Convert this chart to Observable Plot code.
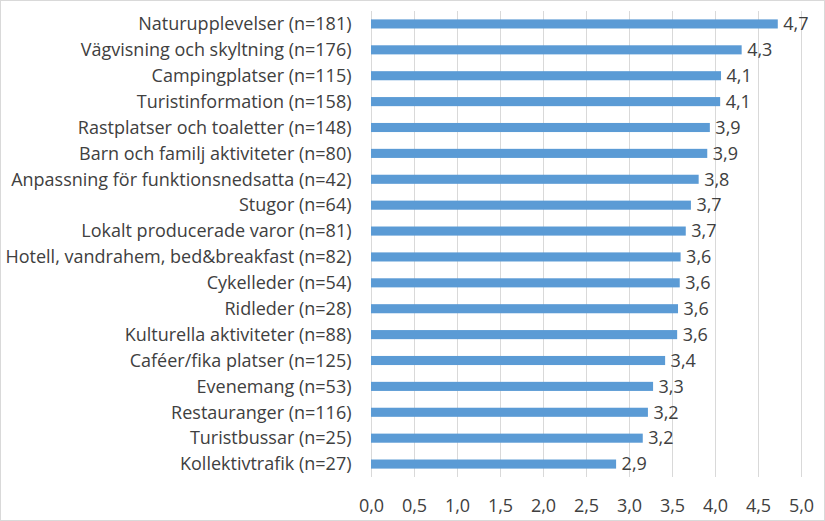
<!DOCTYPE html>
<html>
<head>
<meta charset="utf-8">
<script src="https://cdn.jsdelivr.net/npm/d3@7"></script>
<script src="https://cdn.jsdelivr.net/npm/@observablehq/plot@0.6"></script>
<style>
  html, body { margin: 0; padding: 0; background: #fff; }
  #chart svg { display: block; outline: 1px solid #d9d9d9; outline-offset: -1px; }
</style>
</head>
<body>
<div id="chart"></div>
<script>
const categories = [
  "Naturupplevelser", "Vägvisning och skyltning", "Campingplatser", "Turistinformation",
  "Rastplatser och toaletter", "Barn och familj aktiviteter", "Anpassning för funktionsnedsatta",
  "Stugor", "Lokalt producerade varor", "Hotell, vandrahem, bed&breakfast", "Cykelleder",
  "Ridleder", "Kulturella aktiviteter", "Caféer/fika platser", "Evenemang", "Restauranger",
  "Turistbussar", "Kollektivtrafik"
];
const counts = [181, 176, 115, 158, 148, 80, 42, 64, 81, 82, 54, 28, 88, 125, 53, 116, 25, 27];
const values = [4.73, 4.31, 4.07, 4.06, 3.94, 3.91, 3.81, 3.72, 3.66, 3.60, 3.59, 3.57, 3.56, 3.42, 3.28, 3.22, 3.16, 2.85];
const xTicks = [0, 0.5, 1, 1.5, 2, 2.5, 3, 3.5, 4, 4.5, 5];

const data = categories.map((c, i) => ({ label: `${c} (n=${counts[i]})`, value: values[i] }));
const comma = v => v.toFixed(1).replace(".", ",");

const chart = Plot.plot({
  width: 825,
  height: 521,
  marginLeft: 371,
  marginRight: 24,
  marginTop: 11,
  marginBottom: 44,
  style: { fontFamily: "'Open Sans', sans-serif", fontSize: "18px", color: "#404040", background: "#fff" },
  x: { domain: [0, 5], ticks: xTicks, tickFormat: comma, label: null },
  y: { domain: data.map(d => d.label), padding: 0, round: false, label: null },
  marks: [
    Plot.ruleX(xTicks, { stroke: "#d9d9d9", strokeWidth: 1, strokeOpacity: 1 }),
    Plot.axisX({ ticks: xTicks, tickFormat: comma, tickSize: 0, tickPadding: 22, fontSize: 18, fill: "#404040", label: null }),
    Plot.axisY({ tickSize: 0, tickPadding: 20, fontSize: 18, fill: "#404040", label: null }),
    Plot.barX(data, { x: "value", y: "label", fill: "#5b9bd5", insetTop: 8.4, insetBottom: 8.4 }),
    Plot.text(data, { x: "value", y: "label", text: d => comma(d.value), textAnchor: "start", dx: 5, fontSize: 18, fill: "#404040" })
  ]
});
document.getElementById("chart").appendChild(chart);
</script>
</body>
</html>
